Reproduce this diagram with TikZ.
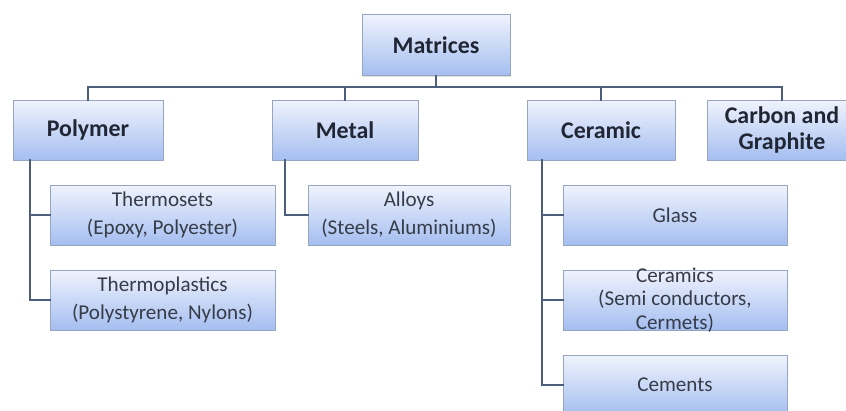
\documentclass[tikz,border=0pt]{standalone}
\usepackage{fontspec}
\setmainfont{Carlito}
\usepackage{tikz}
\usetikzlibrary{positioning,calc,shadows}
\definecolor{boxtop}{RGB}{240,243,253}
\definecolor{boxbot}{RGB}{164,190,240}
\definecolor{boxline}{RGB}{150,166,192}
\definecolor{wire}{RGB}{76,94,124}
\definecolor{ink}{RGB}{32,38,52}
\tikzset{
    groupbox/.style={rectangle,draw=boxline,line width=0.6pt,top color=boxtop,bottom color=boxbot,
        drop shadow={shadow xshift=1pt,shadow yshift=-1pt,opacity=0.25},
        minimum height=60*0.025cm,inner sep=0pt,align=center,
        font=\bfseries\fontsize{17}{18}\selectfont,text=ink},
    leafbox/.style={groupbox,font=\fontsize{15}{20}\selectfont,text=ink!90},
    wire/.style={draw=wire,line width=1.4pt,line cap=rect}
}

\begin{document}
\begin{tikzpicture}[x=0.025cm,y=-0.025cm]

        % --- Canvas ---
        \path[use as bounding box,fill=white] (0,0) rectangle (846,410);
        \clip (0,0) rectangle (846,410);

        % --- Root ---
        \node[groupbox,minimum width=148*0.025cm,minimum height=61*0.025cm] (matrices) at (436,45) {Matrices};

        % --- Matrix families ---
        \node[groupbox,minimum width=150*0.025cm] (polymer) at (88,130) {Polymer};
        \node[groupbox,minimum width=146*0.025cm] (metal) at (345,130) {Metal};
        \node[groupbox,minimum width=148*0.025cm] (ceramic) at (601,130) {Ceramic};
        \node[groupbox,minimum width=150*0.025cm] (carbon) at (782,130) {Carbon and\\Graphite};

        % --- Polymer types ---
        \node[leafbox,minimum width=225*0.025cm] (thermosets) at (162.5,215) {Thermosets\\(Epoxy, Polyester)};
        \node[leafbox,minimum width=225*0.025cm] (thermoplastics) at (162.5,300) {Thermoplastics\\(Polystyrene, Nylons)};

        % --- Metal types ---
        \node[leafbox,minimum width=202*0.025cm] (alloys) at (409,215) {Alloys\\(Steels, Aluminiums)};

        % --- Ceramic types ---
        \node[leafbox,minimum width=224*0.025cm] (glass) at (675,215) {Glass};
        \node[leafbox,minimum width=224*0.025cm] (ceramics) at (675,300) {};
        \node[align=center,font=\fontsize{15}{16.5}\selectfont,text=ink!90] (ceramicstext) at (ceramics) {Ceramics\\(Semi conductors,\\Cermets)};
        \node[leafbox,minimum width=224*0.025cm] (cements) at (675,385) {Cements};

        % Top bus
        \coordinate (bus) at (436,87);
        \draw[wire] (matrices.south) -- (bus);
        \draw[wire] (polymer.north) |- (bus) -| (carbon.north);
        \draw[wire] (metal.north) -- (metal.north |- bus);
        \draw[wire] (ceramic.north) -- (ceramic.north |- bus);

        % Spines below each family
        \coordinate (polyspine) at ($(polymer.south west)+(17,0)$);
        \coordinate (metalspine) at ($(metal.south west)+(13,0)$);
        \coordinate (ceramicspine) at ($(ceramic.south west)+(15,0)$);

        \draw[wire] (polyspine) |- (thermosets.west);
        \draw[wire] (polyspine) |- (thermoplastics.west);

        \draw[wire] (metalspine) |- (alloys.west);

        \draw[wire] (ceramicspine) |- (glass.west);
        \draw[wire] (ceramicspine) |- (ceramics.west);
        \draw[wire] (ceramicspine) |- (cements.west);

    \end{tikzpicture}
\end{document}
